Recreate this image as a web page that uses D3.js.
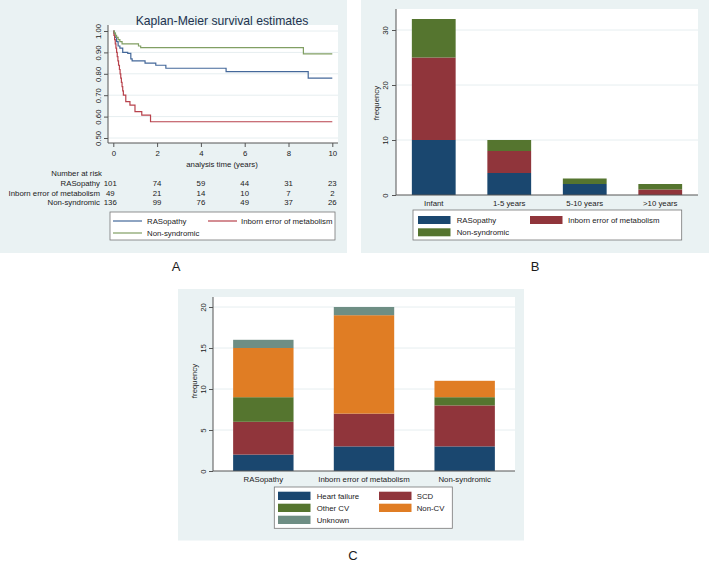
<!DOCTYPE html>
<html>
<head>
<meta charset="utf-8">
<script src="https://cdn.jsdelivr.net/npm/d3@7"></script>
<style>
  html, body { margin: 0; padding: 0; background: #ffffff; }
  svg { display: block; font-family: "Liberation Sans", Arial, Helvetica, sans-serif; }
</style>
</head>
<body>
<svg id="chart" width="709" height="562"></svg>
<script>
// ---------------- DATA ----------------
// Panel A: Kaplan-Meier survival estimates
const kmTitle = "Kaplan-Meier survival estimates";
const kmXLabel = "analysis time (years)";
const kmTimeTicks = [0, 2, 4, 6, 8, 10];
const kmYTicks = [0.5, 0.6, 0.7, 0.8, 0.9, 1.0];
const kmGroups = ["RASopathy", "Inborn error of metabolism", "Non-syndromic"];
const rasTimes = [0, 0.03, 0.08, 0.15, 0.22, 0.30, 0.43, 0.66, 0.80, 0.86, 1.45, 1.94, 2.40, 5.15, 8.90];
const rasSurv  = [1.0, 0.99, 0.97, 0.95, 0.93, 0.92, 0.90, 0.895, 0.87, 0.86, 0.85, 0.84, 0.826, 0.81, 0.78];
const iemTimes = [0, 0.03, 0.06, 0.09, 0.12, 0.15, 0.18, 0.21, 0.24, 0.28, 0.31, 0.34, 0.37, 0.40, 0.43, 0.46, 0.57, 0.76, 0.99, 1.30, 1.70];
const iemSurv  = [1.0, 0.98, 0.96, 0.94, 0.92, 0.90, 0.88, 0.86, 0.84, 0.82, 0.80, 0.78, 0.76, 0.74, 0.72, 0.70, 0.67, 0.654, 0.623, 0.607, 0.576];
const nsTimes  = [0, 0.05, 0.10, 0.15, 0.22, 0.30, 0.40, 1.15, 1.25, 8.68];
const nsSurv   = [1.0, 0.99, 0.98, 0.97, 0.96, 0.95, 0.94, 0.93, 0.922, 0.893];
const riskRAS = [101, 74, 59, 44, 31, 23];
const riskIEM = [49, 21, 14, 10, 7, 2];
const riskNS  = [136, 99, 76, 49, 37, 26];

// Panel B: age at death
const ageCategories = ["Infant", "1-5 years", "5-10 years", ">10 years"];
const ageRAS = [10, 4, 2, 0];
const ageIEM = [15, 4, 0, 1];
const ageNS  = [7, 2, 1, 1];
const ageYTicks = [0, 10, 20, 30];

// Panel C: cause of death
const causeGroups = ["RASopathy", "Inborn error of metabolism", "Non-syndromic"];
const causeTypes = ["Heart failure", "SCD", "Other CV", "Non-CV", "Unknown"];
const causeHF      = [2, 3, 3];
const causeSCD     = [4, 4, 5];
const causeOtherCV = [3, 0, 1];
const causeNonCV   = [6, 12, 2];
const causeUnknown = [1, 1, 0];
const causeYTicks = [0, 5, 10, 15, 20];

const panelLabels = ["A", "B", "C"];

// ---------------- STYLE ----------------
const BG = "#eaf2f3", GRID = "#e6eef0", AXIS = "#555", TXT = "#1b1b1b";
const FS = 7.8;
const kmColors = ["#44689a", "#b8424c", "#819f63"];
const barColors = ["#1a476f", "#90353b", "#55752f", "#e07d24", "#6e8e84"];

const svg = d3.select("#chart");

function yAxisRot(g, scale, ticks, fmt, off) {
  const ax = d3.axisLeft(scale).tickValues(ticks).tickSize(4).tickFormat(fmt);
  g.call(ax);
  g.select(".domain").attr("stroke", AXIS);
  g.selectAll(".tick line").attr("stroke", AXIS);
  g.selectAll(".tick text")
    .attr("transform", "rotate(-90)")
    .attr("x", 0).attr("y", -off).attr("dy", 0)
    .attr("text-anchor", "middle")
    .attr("fill", TXT).style("font-size", FS + "px")
    .style("font-family", '"Liberation Sans", Arial, sans-serif');
}

// ================= PANEL A =================
const A = svg.append("g");
A.append("rect").attr("x", 0).attr("y", 0).attr("width", 347).attr("height", 253).attr("fill", BG);
const aL = 108, aR = 338, aT = 25, aB = 143;
A.append("rect").attr("x", aL).attr("y", aT).attr("width", aR - aL).attr("height", aB - aT).attr("fill", "#fff");
const kx = d3.scaleLinear().domain([0, 10]).range([113.3, 332.3]);
const ky = d3.scaleLinear().domain([0.5, 1.0]).range([138, 31]);
A.append("g").selectAll("line").data(kmYTicks).join("line")
  .attr("x1", aL).attr("x2", aR).attr("y1", d => ky(d)).attr("y2", d => ky(d))
  .attr("stroke", GRID).attr("stroke-width", 1);
A.append("text").attr("x", 222).attr("y", 25).attr("text-anchor", "middle")
  .attr("fill", "#23324f").style("font-size", "12.2px").text(kmTitle);
const ayG = A.append("g").attr("transform", `translate(${aL},0)`);
yAxisRot(ayG, ky, kmYTicks, d3.format(".2f"), 7);
ayG.select(".domain").remove();
A.append("line").attr("x1", aL).attr("x2", aL).attr("y1", aT).attr("y2", aB).attr("stroke", AXIS);
const axG = A.append("g").attr("transform", `translate(0,${aB})`);
axG.call(d3.axisBottom(kx).tickValues(kmTimeTicks).tickSize(4).tickFormat(d3.format("d")));
axG.select(".domain").remove();
axG.selectAll(".tick line").attr("stroke", AXIS);
axG.selectAll(".tick text").attr("fill", TXT).style("font-size", FS + "px").attr("y", 7);
A.append("line").attr("x1", aL).attr("x2", aR).attr("y1", aB).attr("y2", aB).attr("stroke", AXIS);
A.append("text").attr("x", 222).attr("y", 167).attr("text-anchor", "middle")
  .attr("fill", TXT).style("font-size", FS + "px").text(kmXLabel);

const kmSeries = [[rasTimes, rasSurv], [iemTimes, iemSurv], [nsTimes, nsSurv]];
const stepLine = d3.line().x(d => kx(d[0])).y(d => ky(d[1])).curve(d3.curveStepAfter);
kmSeries.forEach(([ts, ss], i) => {
  const pts = ts.map((t, j) => [t, ss[j]]);
  pts.push([10, ss[ss.length - 1]]);
  A.append("path").attr("d", stepLine(pts)).attr("fill", "none")
    .attr("stroke", kmColors[i]).attr("stroke-width", 1.2);
});

// number at risk
A.append("text").attr("x", 102).attr("y", 176).attr("text-anchor", "end")
  .attr("fill", TXT).style("font-size", FS + "px").text("Number at risk");
const riskRows = [riskRAS, riskIEM, riskNS];
const riskY = [186, 195.5, 205];
riskRows.forEach((row, i) => {
  A.append("text").attr("x", 100).attr("y", riskY[i]).attr("text-anchor", "end")
    .attr("fill", TXT).style("font-size", FS + "px").text(kmGroups[i]);
  A.append("g").selectAll("text").data(row).join("text")
    .attr("x", (d, j) => kx(kmTimeTicks[j]) - (j === 0 ? 3 : 0)).attr("y", riskY[i])
    .attr("text-anchor", "middle").attr("fill", TXT).style("font-size", FS + "px")
    .text(d => d);
});
// legend A
A.append("rect").attr("x", 110).attr("y", 212).attr("width", 225).attr("height", 28)
  .attr("fill", "#fff").attr("stroke", "#777").attr("stroke-width", 0.8);
const aLeg = [[113, 221, 147], [208, 221, 241], [113, 233, 147]];
kmGroups.forEach((g, i) => {
  const [lx, ly, tx] = aLeg[i];
  A.append("line").attr("x1", lx).attr("x2", lx + 29).attr("y1", ly).attr("y2", ly)
    .attr("stroke", kmColors[i]).attr("stroke-width", 1.2);
  A.append("text").attr("x", tx).attr("y", ly + 2.8).attr("fill", TXT)
    .style("font-size", FS + "px").text(g);
});

// ================= PANEL B =================
const B = svg.append("g");
B.append("rect").attr("x", 361).attr("y", 0).attr("width", 348).attr("height", 253).attr("fill", BG);
const bL = 396, bR = 698, bT = 9, bB = 195;
B.append("rect").attr("x", bL).attr("y", bT).attr("width", bR - bL).attr("height", bB - bT).attr("fill", "#fff");
const bx = d3.scaleBand().domain(ageCategories).range([bL, bR]).paddingInner(0.42).paddingOuter(0.21);
const by = d3.scaleLinear().domain([0, 30]).range([bB, 30]);
B.append("g").selectAll("line").data(ageYTicks.filter(d => d > 0)).join("line")
  .attr("x1", bL).attr("x2", bR).attr("y1", d => by(d)).attr("y2", d => by(d))
  .attr("stroke", GRID);
const ageRows = ageCategories.map((c, i) => ({ cat: c, ras: ageRAS[i], iem: ageIEM[i], ns: ageNS[i] }));
const bStack = d3.stack().keys(["ras", "iem", "ns"])(ageRows);
B.append("g").selectAll("g").data(bStack).join("g").attr("fill", (d, i) => barColors[i])
  .selectAll("rect").data(d => d).join("rect")
  .attr("x", d => bx(d.data.cat)).attr("width", bx.bandwidth())
  .attr("y", d => by(d[1])).attr("height", d => by(d[0]) - by(d[1]));
const byG = B.append("g").attr("transform", `translate(${bL},0)`);
yAxisRot(byG, by, ageYTicks, d3.format("d"), 8);
byG.select(".domain").remove();
B.append("line").attr("x1", bL).attr("x2", bL).attr("y1", bT).attr("y2", bB).attr("stroke", AXIS);
B.append("line").attr("x1", bL).attr("x2", bR).attr("y1", bB).attr("y2", bB).attr("stroke", AXIS);
B.append("g").selectAll("text").data(ageCategories).join("text")
  .attr("x", d => bx(d) + bx.bandwidth() / 2).attr("y", 206)
  .attr("text-anchor", "middle").attr("fill", TXT).style("font-size", FS + "px").text(d => d);
B.append("text").attr("transform", "translate(379,103) rotate(-90)").attr("text-anchor", "middle")
  .attr("fill", TXT).style("font-size", FS + "px").text("frequency");
B.append("rect").attr("x", 413).attr("y", 210).attr("width", 268.7).attr("height", 30)
  .attr("fill", "#fff").attr("stroke", "#777").attr("stroke-width", 0.8);
const bLeg = [[418, 216, 456.7], [530, 216, 568], [418, 228.3, 456.7]];
kmGroups.forEach((g, i) => {
  const [sx, sy, tx] = bLeg[i];
  B.append("rect").attr("x", sx).attr("y", sy).attr("width", 32.5).attr("height", 8).attr("fill", barColors[i]);
  B.append("text").attr("x", tx).attr("y", sy + 7).attr("fill", TXT)
    .style("font-size", FS + "px").text(g);
});

// ================= PANEL C =================
const C = svg.append("g");
C.append("rect").attr("x", 178).attr("y", 289).attr("width", 346).attr("height", 251.5).attr("fill", BG);
const cL = 213, cR = 515, cT = 297, cB = 471;
C.append("rect").attr("x", cL).attr("y", cT).attr("width", cR - cL).attr("height", cB - cT).attr("fill", "#fff");
const cx = d3.scaleBand().domain(causeGroups).range([cL, cR]).paddingInner(0.4).paddingOuter(0.2);
const cy = d3.scaleLinear().domain([0, 20]).range([cB, 307]);
C.append("g").selectAll("line").data(causeYTicks.filter(d => d > 0)).join("line")
  .attr("x1", cL).attr("x2", cR).attr("y1", d => cy(d)).attr("y2", d => cy(d))
  .attr("stroke", GRID);
const causeRows = causeGroups.map((g, i) => ({
  grp: g, hf: causeHF[i], scd: causeSCD[i], ocv: causeOtherCV[i], ncv: causeNonCV[i], unk: causeUnknown[i]
}));
const cStack = d3.stack().keys(["hf", "scd", "ocv", "ncv", "unk"])(causeRows);
C.append("g").selectAll("g").data(cStack).join("g").attr("fill", (d, i) => barColors[i])
  .selectAll("rect").data(d => d).join("rect")
  .attr("x", d => cx(d.data.grp)).attr("width", cx.bandwidth())
  .attr("y", d => cy(d[1])).attr("height", d => cy(d[0]) - cy(d[1]));
const cyG = C.append("g").attr("transform", `translate(${cL},0)`);
yAxisRot(cyG, cy, causeYTicks, d3.format("d"), 7);
cyG.select(".domain").remove();
C.append("line").attr("x1", cL).attr("x2", cL).attr("y1", cT).attr("y2", cB).attr("stroke", AXIS);
C.append("line").attr("x1", cL).attr("x2", cR).attr("y1", cB).attr("y2", cB).attr("stroke", AXIS);
C.append("g").selectAll("text").data(causeGroups).join("text")
  .attr("x", d => cx(d) + cx.bandwidth() / 2).attr("y", 482)
  .attr("text-anchor", "middle").attr("fill", TXT).style("font-size", FS + "px").text(d => d);
C.append("text").attr("transform", "translate(197,381) rotate(-90)").attr("text-anchor", "middle")
  .attr("fill", TXT).style("font-size", FS + "px").text("frequency");
C.append("rect").attr("x", 274.3).attr("y", 487).attr("width", 178).attr("height", 41.3)
  .attr("fill", "#fff").attr("stroke", "#777").attr("stroke-width", 0.8);
const cLeg = [[278, 491.7, 316.7], [379, 491.7, 416.7], [278, 503.7, 316.7], [379, 503.7, 416.7], [278, 515.7, 316.7]];
causeTypes.forEach((t, i) => {
  const [sx, sy, tx] = cLeg[i];
  C.append("rect").attr("x", sx).attr("y", sy).attr("width", 32.5).attr("height", 8.3).attr("fill", barColors[i]);
  C.append("text").attr("x", tx).attr("y", sy + 7).attr("fill", TXT)
    .style("font-size", FS + "px").text(t);
});

// panel labels
const labelPos = [[176, 271], [535, 271], [353, 560]];
panelLabels.forEach((l, i) => {
  svg.append("text").attr("x", labelPos[i][0]).attr("y", labelPos[i][1]).attr("text-anchor", "middle")
    .attr("fill", TXT).style("font-size", "13px").text(l);
});
</script>
</body>
</html>
